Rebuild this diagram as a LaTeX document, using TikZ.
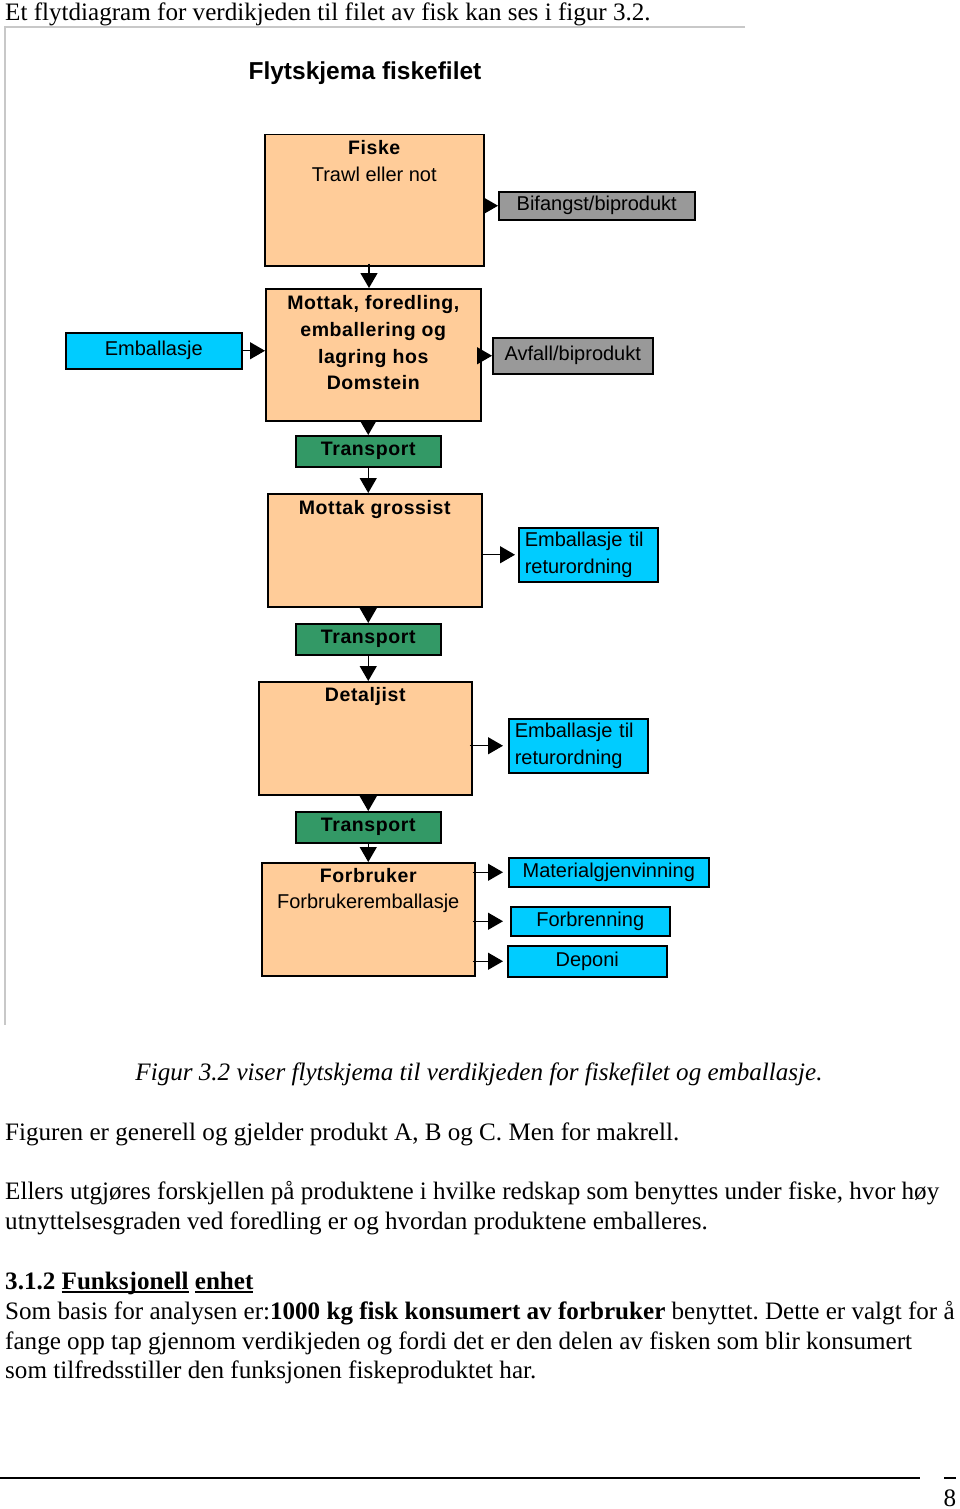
\documentclass[tikz,border=0pt]{standalone}
\usepackage{fontspec}
\setmainfont{Liberation Serif}
\setsansfont{Liberation Sans}
\newfontfamily\sansbold[LetterSpace=3]{Liberation Sans Bold}
\usetikzlibrary{arrows.meta}
\frenchspacing
\definecolor{peach}{HTML}{FFCC99}
\definecolor{grayb}{HTML}{999999}
\definecolor{cyanb}{HTML}{00CCFF}
\definecolor{greenb}{HTML}{339966}
\definecolor{framegray}{HTML}{C8C8C8}
\newcommand\myul[1]{\setbox0\hbox{#1}\rlap{\rule[-4pt]{\wd0}{1.6pt}}\box0\relax}
\tikzset{
  box/.style={draw=black, line width=1.5pt, inner sep=0pt, anchor=north west},
  bigbox/.style={box, fill=peach},
  graybox/.style={box, fill=grayb, font=\sffamily\fontsize{20}{23}\selectfont},
  cyanbox/.style={box, fill=cyanb, font=\sffamily\fontsize{20}{23}\selectfont},
  retbox/.style={box, fill=cyanb, font=\sffamily\fontsize{20}{27}\selectfont, align=left, inner xsep=6pt},
  greenbox/.style={box, fill=greenb, font=\sansbold\fontsize{19.5}{23}\selectfont},
  tb/.style={anchor=base, inner sep=0pt, font=\sansbold\fontsize{19.5}{23}\selectfont},
  tn/.style={anchor=base, inner sep=0pt, font=\sffamily\fontsize{20}{23}\selectfont},
  body/.style={anchor=base west, inner sep=0pt, font=\fontsize{25.1}{29}\selectfont},
  arr/.style={-{Triangle[length=15pt,width=17pt]}, line width=1.3pt},
}
\begin{document}
\begin{tikzpicture}[x=1pt, y=-1pt]
\useasboundingbox (0,0) rectangle (960,1509);
% top text and frame
\node[body] (l1) at (5,21) {Et flytdiagram for verdikjeden til filet av fisk kan ses i figur 3.2.};
\draw[framegray, line width=1.5pt] (745,27) -- (5,27) -- (5,1025);
% title
\node[anchor=base, inner sep=0pt, font=\sffamily\bfseries\fontsize{24.5}{29}\selectfont] (title) at (365,80) {Flytskjema fiskefilet};

% main boxes
\node[bigbox, minimum width=219pt, minimum height=131pt] (fiske) at (264,134) {};
\node[bigbox, minimum width=215pt, minimum height=132pt] (mottak) at (265,288) {};
\node[greenbox, minimum width=145pt, minimum height=31pt] (t1) at (295,435) {Transport};
\node[bigbox, minimum width=214pt, minimum height=113pt] (gross) at (267,493) {};
\node[greenbox, minimum width=145pt, minimum height=31pt] (t2) at (295,623) {Transport};
\node[bigbox, minimum width=213pt, minimum height=113pt] (detalj) at (258,681) {};
\node[greenbox, minimum width=145pt, minimum height=31pt] (t3) at (295,811) {Transport};
\node[bigbox, minimum width=213pt, minimum height=113pt] (forb) at (261,862) {};

% texts in main boxes
\node[tb] (fisket) at ([yshift=-20pt]fiske.north) {Fiske};
\node[tn] (trawl) at ([yshift=-47pt]fiske.north) {Trawl eller not};
\node[tb] (m1) at ([yshift=-21pt]mottak.north) {Mottak, foredling,};
\node[tb] (m2) at ([yshift=-48pt]mottak.north) {emballering og};
\node[tb] (m3) at ([yshift=-75pt]mottak.north) {lagring hos};
\node[tb] (m4) at ([yshift=-101pt]mottak.north) {Domstein};
\node[tb] (grosst) at ([yshift=-21pt]gross.north) {Mottak grossist};
\node[tb] (detaljt) at ([yshift=-20pt]detalj.north) {Detaljist};
\node[tb] (forbt) at ([yshift=-20pt]forb.north) {Forbruker};
\node[tn] (forbt2) at ([yshift=-46pt]forb.north) {Forbrukeremballasje};

% side boxes
\node[graybox, minimum width=196pt, minimum height=28pt] (bif) at (498,191) {Bifangst/biprodukt};
\node[cyanbox, minimum width=176pt, minimum height=36pt] (emb) at (65,332) {Emballasje};
\node[graybox, minimum width=160pt, minimum height=36pt] (avf) at (492,337) {Avfall/biprodukt};
\node[retbox, text width=127pt, minimum height=54pt] (ret1) at (518,527) {Emballasje til\\returordning};
\node[retbox, text width=127pt, minimum height=54pt] (ret2) at (508,718) {Emballasje til\\returordning};
\node[cyanbox, minimum width=200pt, minimum height=29pt] (mat) at (508,857) {Materialgjenvinning};
\node[cyanbox, minimum width=159pt, minimum height=29pt] (forbr) at (510,906) {Forbrenning};
\node[cyanbox, minimum width=159pt, minimum height=31pt] (dep) at (507,945) {Deponi};

% vertical flow arrows
\draw[arr] ([yshift=3pt]fiske.south -| 369,0) -- (mottak.north -| 369,0);
\draw[arr] (mottak.south -| t1.north) -- (t1.north);
\draw[arr] (t1.south) -- (t1.south |- gross.north);
\draw[arr] (gross.south -| t2.north) -- (t2.north);
\draw[arr] (t2.south) -- (t2.south |- detalj.north);
\draw[arr] (detalj.south -| t3.north) -- (t3.north);
\draw[arr] (t3.south) -- (t3.south |- forb.north);

% side arrows
\draw[arr] (fiske.east |- bif.west) -- (bif.west);
\draw[arr] (emb.east) -- (emb.east -| mottak.west);
\draw[arr] (mottak.east |- avf.west) -- (avf.west);
\draw[arr] (gross.east |- ret1.west) -- ([xshift=-3pt]ret1.west);
\draw[arr] ([xshift=-3pt]detalj.east |- ret2.west) -- ([xshift=-5pt]ret2.west);
\draw[arr] ([xshift=-3pt]forb.east |- mat.west) -- ([xshift=-5pt]mat.west);
\draw[arr] ([xshift=-3pt]forb.east |- forbr.west) -- ([xshift=-7pt]forbr.west);
\draw[arr] ([xshift=-3pt]forb.east |- dep.west) -- ([xshift=-4pt]dep.west);

% caption and body text
\node[anchor=base, inner sep=0pt, font=\itshape\fontsize{25.1}{29}\selectfont] (cap) at (479,1080) {Figur 3.2 viser flytskjema til verdikjeden for fiskefilet og emballasje.};
\node[body] (p1) at (5,1140) {Figuren er generell og gjelder produkt A, B og C. Men for makrell.};
\node[body] (p2a) at (5,1199) {Ellers utgjøres forskjellen på produktene i hvilke redskap som benyttes under fiske, hvor høy};
\node[body] (p2b) at (5,1229) {utnyttelsesgraden ved foredling er og hvordan produktene emballeres.};
\node[body] (h) at (5,1289) {\bfseries 3.1.2 \myul{Funksjonell} \myul{enhet}};
\node[body] (p3a) at (5,1319) {Som basis for analysen er:\textbf{1000 kg fisk konsumert av forbruker} benyttet. Dette er valgt for å};
\node[body] (p3b) at (5,1349) {fange opp tap gjennom verdikjeden og fordi det er den delen av fisken som blir konsumert};
\node[body] (p3c) at (5,1378) {som tilfredsstiller den funksjonen fiskeproduktet har.};

% footer
\draw[line width=1.5pt] (0,1478) -- (920,1478);
\draw[line width=1.5pt] (944,1478) -- (956,1478);
\node[anchor=base, inner sep=0pt, font=\fontsize{25.1}{29}\selectfont] (pg) at (950,1506) {8};
\end{tikzpicture}
\end{document}
